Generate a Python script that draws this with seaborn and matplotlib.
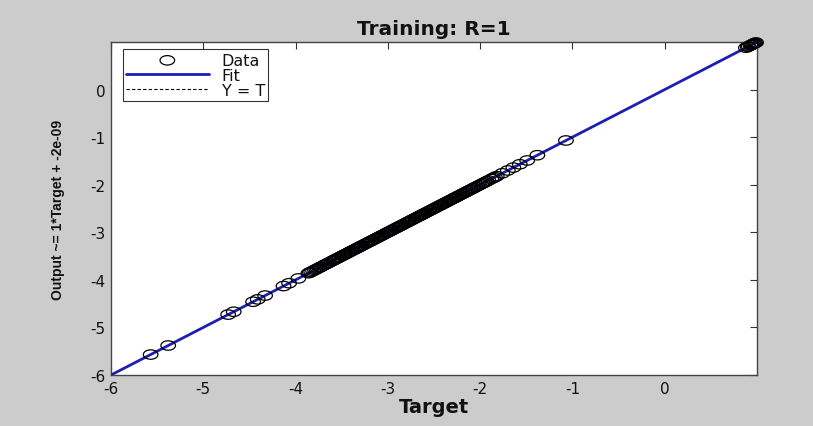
import numpy as np
import pandas as pd
import matplotlib
matplotlib.use('Agg')
import matplotlib.pyplot as plt
from matplotlib.path import Path
import seaborn as sns

# targets (R=1, so outputs equal targets)
targets = [
    -5.57, -5.38, -4.73, -4.67, -4.46, -4.41, -4.33, -4.13, -4.07, -3.97,
    -3.86, -3.845, -3.83, -3.81, -3.79, -3.775, -3.76, -3.74, -3.725, -3.70,
    -3.685, -3.67, -3.65, -3.635, -3.61, -3.595, -3.58, -3.565, -3.55, -3.535,
    -3.52, -3.50, -3.485, -3.47, -3.455, -3.44, -3.425, -3.41, -3.395, -3.38,
    -3.36, -3.345, -3.33, -3.315, -3.30, -3.285, -3.27, -3.25, -3.235, -3.22,
    -3.205, -3.19, -3.175, -3.16, -3.14, -3.125, -3.11, -3.095, -3.08, -3.065,
    -3.05, -3.03, -3.015, -3.00, -2.985, -2.97, -2.955, -2.94, -2.92, -2.905,
    -2.89, -2.875, -2.86, -2.845, -2.83, -2.81, -2.795, -2.78, -2.765, -2.75,
    -2.735, -2.72, -2.70, -2.685, -2.67, -2.655, -2.64, -2.625, -2.61, -2.595,
    -2.58, -2.56, -2.545, -2.53, -2.515, -2.50, -2.485, -2.47, -2.45, -2.435,
    -2.42, -2.405, -2.39, -2.375, -2.36, -2.345, -2.33, -2.31, -2.295, -2.28,
    -2.265, -2.25, -2.235, -2.22, -2.20, -2.19, -2.17, -2.16, -2.14, -2.13,
    -2.11, -2.10, -2.08, -2.07, -2.05, -2.03, -2.01, -1.99, -1.97, -1.95,
    -1.93, -1.91, -1.88, -1.86, -1.84, -1.82,
    -1.76, -1.70, -1.64, -1.57, -1.49, -1.38, -1.07,
    0.88, 0.90, 0.91, 0.93, 0.94, 0.95, 0.96, 0.97, 0.98, 0.99,
]
outputs = list(targets)

slope = 1.0
intercept = -2e-09
axis_lim = [-6, 1]
ticks = [-6, -5, -4, -3, -2, -1, 0]

df = pd.DataFrame({'Target': targets, 'Output': outputs})
fit_df = pd.DataFrame({'x': axis_lim, 'y': [slope * v + intercept for v in axis_lim]})
yt_df = pd.DataFrame({'x': axis_lim, 'y': axis_lim})

sns.set_style('white')
plt.rcParams['font.family'] = ['DejaVu Sans']
plt.rcParams['axes.unicode_minus'] = False

# MATLAB-ish circles look wide in the screenshot
t = np.linspace(0, 2 * np.pi, 60)
ellipse = Path(np.column_stack([1.55 * np.cos(t), np.sin(t)]), closed=True)

fig = plt.figure(figsize=(8.13, 4.27), dpi=100, facecolor='#cccccc')
ax = fig.add_axes([0.1365, 0.1194, 0.7946, 0.7799])
ax.set_facecolor('white')

sns.lineplot(data=yt_df, x='x', y='y', ax=ax, color='black', linewidth=0.8,
             linestyle=(0, (3, 2)), label='Y = T', zorder=2)
sns.lineplot(data=fit_df, x='x', y='y', ax=ax, color='#1e1eb4', linewidth=2,
             label='Fit', zorder=3)
sns.scatterplot(data=df, x='Target', y='Output', ax=ax, marker=ellipse, s=110,
                facecolor='none', edgecolor='black', linewidth=0.9,
                label='Data', clip_on=False, zorder=4)

ax.set_xlim(axis_lim)
ax.set_ylim(axis_lim)
ax.set_xticks(ticks)
ax.set_yticks(ticks)
ax.tick_params(direction='in', length=5, width=0.8, top=True, right=True,
               labelsize=11, colors='#333333', labelcolor='#111111', pad=4)
for s in ax.spines.values():
    s.set_color('#444444')
    s.set_linewidth(1)
    s.set_visible(True)

ax.set_title('Training: R=1', fontsize=14.5, fontweight='bold', pad=6, color='#111111')
ax.set_xlabel('Target', fontsize=14, fontweight='bold', labelpad=1, color='#111111')
ax.set_ylabel('Output ~= 1*Target + -2e-09', fontsize=10, fontweight='bold',
              family='Liberation Sans', labelpad=18, color='#111111')

# legend order as in the reference: Data, Fit, Y = T
h, l = ax.get_legend_handles_labels()
order = [l.index('Data'), l.index('Fit'), l.index('Y = T')]
leg = ax.legend([h[i] for i in order], [l[i] for i in order],
                loc='upper left', handlelength=5.2, fontsize=11.5,
                frameon=True, fancybox=False, borderpad=0.2,
                labelspacing=0.0, handletextpad=0.8,
                bbox_to_anchor=(0.018, 0.978), borderaxespad=0)
leg.get_frame().set_edgecolor('black')
leg.get_frame().set_linewidth(0.8)
for txt in leg.get_texts():
    txt.set_color('#111111')

fig.savefig('out.png', dpi=100, facecolor=fig.get_facecolor())
